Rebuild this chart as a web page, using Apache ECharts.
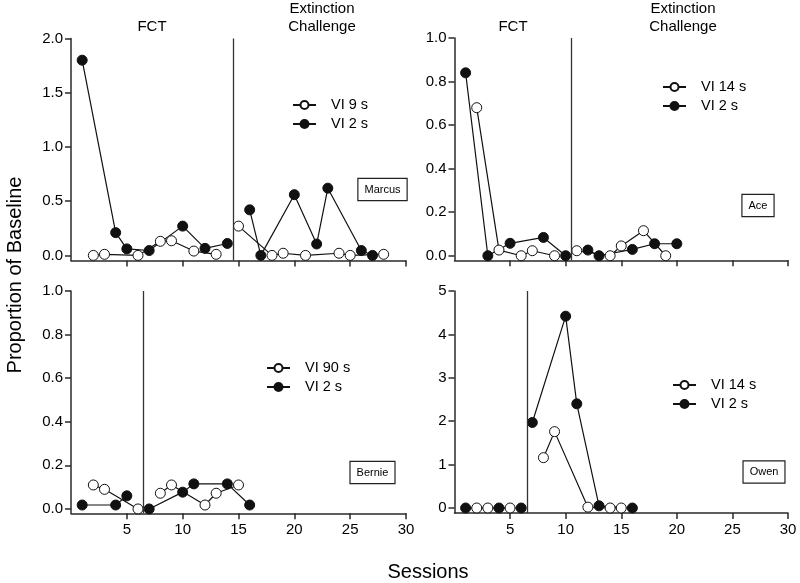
<!DOCTYPE html>
<html><head><meta charset="utf-8">
<script src="https://cdn.jsdelivr.net/npm/echarts@6/dist/echarts.min.js"></script>
<style>html,body{margin:0;padding:0;background:#fff}#c{width:800px;height:583px}</style>
</head><body><div id="c"></div>
<script>
const FONT = '"Liberation Sans", Arial, Helvetica, sans-serif';

// ---- Marcus (top left) ----
const marcusPhaseChange = 14.5;
const marcusOpenName = 'VI 9 s';
const marcusOpenSessions = [2, 3, 6, 8, 9, 11, 13, 15, 18, 19, 21, 24, 25, 28];
const marcusOpenValues   = [0, 0.01, 0, 0.13, 0.135, 0.04, 0.01, 0.27, 0, 0.02, 0, 0.02, 0, 0.01];
const marcusFilledSessions = [1, 4, 5, 7, 10, 12, 14, 16, 17, 20, 22, 23, 26, 27];
const marcusFilledValues   = [1.8, 0.21, 0.06, 0.045, 0.27, 0.065, 0.11, 0.42, 0, 0.56, 0.105, 0.62, 0.045, 0];

// ---- Ace (top right) ----
const acePhaseChange = 10.5;
const aceOpenName = 'VI 14 s';
const aceOpenSessions = [2, 4, 6, 7, 9, 11, 14, 15, 17, 19];
const aceOpenValues   = [0.68, 0.026, 0, 0.023, 0, 0.023, 0, 0.045, 0.115, 0];
const aceFilledSessions = [1, 3, 5, 8, 10, 12, 13, 16, 18, 20];
const aceFilledValues   = [0.84, 0, 0.057, 0.084, 0, 0.026, 0, 0.029, 0.055, 0.055];

// ---- Bernie (bottom left) ----
const berniePhaseChange = 6.5;
const bernieOpenName = 'VI 90 s';
const bernieOpenSessions = [2, 3, 6, 8, 9, 12, 13, 15];
const bernieOpenValues   = [0.11, 0.09, 0, 0.072, 0.11, 0.018, 0.072, 0.11];
const bernieFilledSessions = [1, 4, 5, 7, 10, 11, 14, 16];
const bernieFilledValues   = [0.018, 0.018, 0.06, 0, 0.077, 0.115, 0.115, 0.018];

// ---- Owen (bottom right) ----
const owenPhaseChange = 6.5;
const owenOpenName = 'VI 14 s';
const owenOpenSessions = [2, 3, 5, 8, 9, 12, 14, 15];
const owenOpenValues   = [0, 0, 0, 1.16, 1.76, 0.02, 0, 0];
const owenFilledSessions = [1, 4, 6, 7, 10, 11, 13, 16];
const owenFilledValues   = [0, 0, 0, 1.97, 4.42, 2.4, 0.05, 0];

const filledName = 'VI 2 s';

// tick labels
const sessionTicks = [5, 10, 15, 20, 25, 30];
const marcusYTicks = [0, 0.5, 1.0, 1.5, 2.0];
const unitYTicks = [0, 0.2, 0.4, 0.6, 0.8, 1.0];
const owenYTicks = [0, 1, 2, 3, 4, 5];

const participantNames = ['Marcus', 'Ace', 'Bernie', 'Owen'];
const phaseLabels = ['FCT', 'Extinction\nChallenge'];
const xTitle = 'Sessions';
const yTitle = 'Proportion of Baseline';

// build line data, breaking the line at the phase change
function toLine(xs, ys, phase) {
  const out = [];
  for (let i = 0; i < xs.length; i++) {
    if (i > 0 && xs[i - 1] < phase && xs[i] > phase) out.push([phase, '-']);
    out.push([xs[i], ys[i]]);
  }
  return out;
}

const AXIS_COLOR = '#2a2a2a';
const grids = [
  { left: 71, top: 38.5, width: 335, height: 222 },
  { left: 454.5, top: 38, width: 333.5, height: 222.3 },
  { left: 71, top: 291, width: 335, height: 222.3 },
  { left: 454.5, top: 291, width: 333.5, height: 222 }
];

function xAxis(gi, showLabels) {
  return {
    type: 'value', gridIndex: gi, min: 0, max: 30,
    axisLine: { show: true, onZero: false, lineStyle: { color: AXIS_COLOR, width: 1.5 } },
    axisTick: { show: true, length: 6, customValues: sessionTicks, lineStyle: { color: AXIS_COLOR, width: 1.5 } },
    axisLabel: { show: showLabels, customValues: sessionTicks, margin: 9, fontSize: 15, fontFamily: FONT, color: '#000' },
    splitLine: { show: false }
  };
}
function yAxis(gi, min, max, ticks, decimals) {
  return {
    type: 'value', gridIndex: gi, min: min, max: max,
    axisLine: { show: true, onZero: false, lineStyle: { color: AXIS_COLOR, width: 1.5 } },
    axisTick: { show: true, length: 6, customValues: ticks, lineStyle: { color: AXIS_COLOR, width: 1.5 } },
    axisLabel: { customValues: ticks, margin: 8, fontSize: 15, fontFamily: FONT, color: '#000',
      formatter: v => Number(v).toFixed(decimals) },
    splitLine: { show: false }
  };
}

function openSeries(name, gi, xs, ys, phase) {
  return {
    type: 'line', name: name, xAxisIndex: gi, yAxisIndex: gi,
    data: toLine(xs, ys, phase), connectNulls: false,
    symbol: 'circle', symbolSize: 10, z: 3,
    lineStyle: { color: '#111', width: 1.2 },
    itemStyle: { color: '#fff', borderColor: '#111', borderWidth: 1 }
  };
}
function filledSeries(gi, xs, ys, phase) {
  return {
    type: 'line', name: filledName, xAxisIndex: gi, yAxisIndex: gi,
    data: toLine(xs, ys, phase), connectNulls: false,
    symbol: 'circle', symbolSize: 10, z: 2,
    lineStyle: { color: '#111', width: 1.2 },
    itemStyle: { color: '#111', borderColor: '#111', borderWidth: 1 },
    markLine: {
      silent: true, symbol: 'none', label: { show: false },
      lineStyle: { color: '#333', width: 1.3, type: 'solid' },
      data: [{ xAxis: phase }]
    }
  };
}

function legend(left, top, names) {
  return {
    orient: 'vertical', left: left, top: top, padding: 0,
    itemWidth: 23, itemHeight: 10, itemGap: 2,
    data: names, selectedMode: false,
    textStyle: { fontSize: 14.5, lineHeight: 17, fontFamily: FONT, color: '#000', padding: [0, 0, 0, 10] }
  };
}

function nameBox(x, y, text) {
  return {
    type: 'text', x: x, y: y, z: 10,
    style: {
      text: text, font: '11px ' + FONT, fill: '#000', align: 'center', verticalAlign: 'middle',
      borderColor: '#222', borderWidth: 1.2, padding: [5, 6, 5, 6], backgroundColor: '#fff'
    }
  };
}
function label(x, y, text, size, rot) {
  return {
    type: 'text', x: x, y: y, rotation: rot || 0,
    style: { text: text, font: size + 'px ' + FONT, fill: '#000', align: 'center', verticalAlign: 'middle', lineHeight: 17.5 }
  };
}

const chart = echarts.init(document.getElementById('c'), null, { renderer: 'canvas' });
chart.setOption({
  animation: false,
  backgroundColor: '#fff',
  grid: grids,
  xAxis: [xAxis(0, false), xAxis(1, false), xAxis(2, true), xAxis(3, true)],
  yAxis: [
    yAxis(0, -0.047, 2.0, marcusYTicks, 1),
    yAxis(1, -0.021, 1.0, unitYTicks, 1),
    yAxis(2, -0.02, 1.0, unitYTicks, 1),
    yAxis(3, -0.115, 5, owenYTicks, 0)
  ],
  legend: [
    legend(292, 96.5, [marcusOpenName, filledName]),
    legend(662, 78.5, [aceOpenName, filledName]),
    legend(266, 359.5, [bernieOpenName, filledName]),
    legend(672, 376.5, [owenOpenName, filledName])
  ],
  series: [
    openSeries(marcusOpenName, 0, marcusOpenSessions, marcusOpenValues, marcusPhaseChange),
    filledSeries(0, marcusFilledSessions, marcusFilledValues, marcusPhaseChange),
    openSeries(aceOpenName, 1, aceOpenSessions, aceOpenValues, acePhaseChange),
    filledSeries(1, aceFilledSessions, aceFilledValues, acePhaseChange),
    openSeries(bernieOpenName, 2, bernieOpenSessions, bernieOpenValues, berniePhaseChange),
    filledSeries(2, bernieFilledSessions, bernieFilledValues, berniePhaseChange),
    openSeries(owenOpenName, 3, owenOpenSessions, owenOpenValues, owenPhaseChange),
    filledSeries(3, owenFilledSessions, owenFilledValues, owenPhaseChange)
  ],
  graphic: [
    label(152, 27, phaseLabels[0], 15),
    label(322, 18, phaseLabels[1], 15),
    label(513, 27, phaseLabels[0], 15),
    label(683, 18, phaseLabels[1], 15),
    label(15, 275, yTitle, 20, Math.PI / 2),
    label(428, 572, xTitle, 20),
    nameBox(382.5, 189.5, participantNames[0]),
    nameBox(758, 205.5, participantNames[1]),
    nameBox(372.5, 472.5, participantNames[2]),
    nameBox(764, 472, participantNames[3])
  ]
});
</script>
</body></html>
